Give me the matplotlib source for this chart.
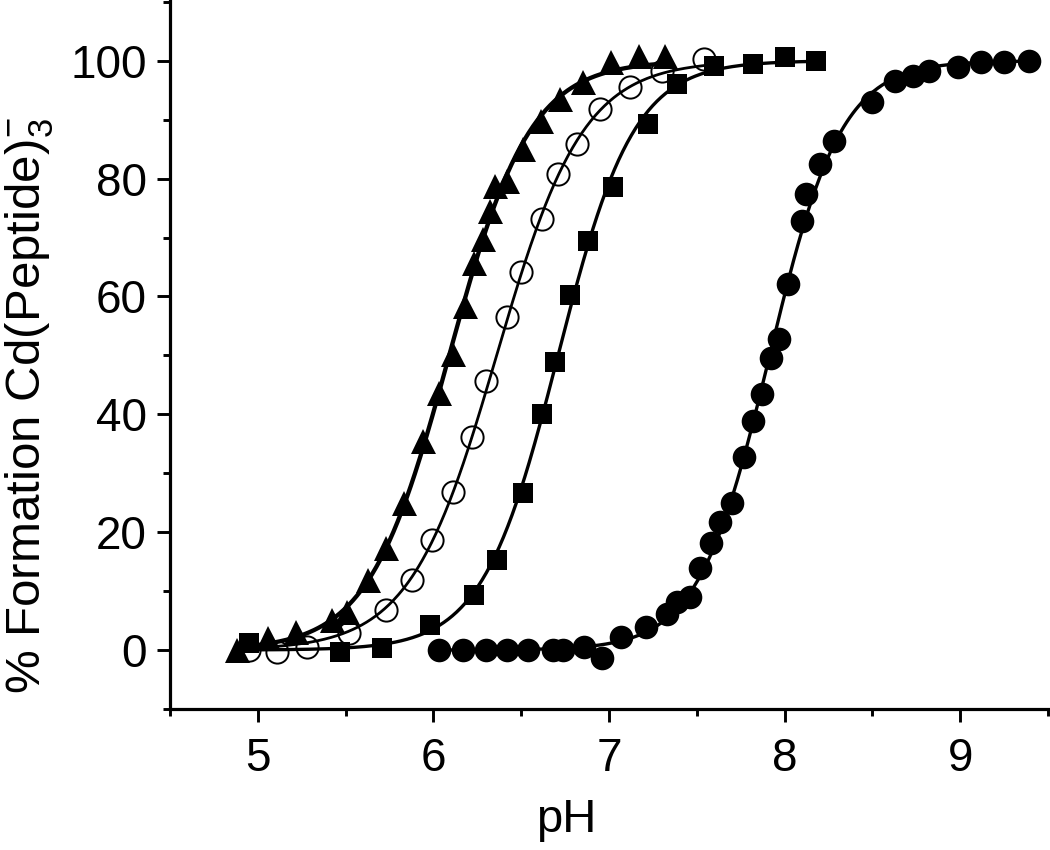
import numpy as np
import matplotlib
matplotlib.use("Agg")
import matplotlib.pyplot as plt
from matplotlib.ticker import MultipleLocator

plt.rcParams['font.family'] = ['Liberation Sans', 'DejaVu Sans']
plt.rcParams['mathtext.fontset'] = 'custom'
plt.rcParams['mathtext.rm'] = 'Liberation Sans'
plt.rcParams['mathtext.it'] = 'Liberation Sans'

# ---- data ----
tri_ph = [4.88, 5.06, 5.22, 5.42, 5.51, 5.63, 5.73, 5.83, 5.94, 6.03, 6.11, 6.18,
          6.23, 6.28, 6.32, 6.35, 6.42, 6.51, 6.61, 6.72, 6.85, 7.01, 7.17, 7.32]
tri_y = [0.0, 2.0, 3.1, 5.1, 6.5, 11.9, 17.3, 25.0, 35.4, 43.7, 50.2, 58.3,
         65.6, 69.7, 74.5, 78.7, 79.6, 85.0, 89.8, 93.5, 96.4, 99.8, 100.8, 100.8]

oc_ph = [4.95, 5.11, 5.28, 5.52, 5.73, 5.88, 5.99, 6.11, 6.22, 6.30, 6.42, 6.50,
         6.62, 6.71, 6.82, 6.95, 7.12, 7.30, 7.54]
oc_y = [0.0, -0.3, 0.5, 2.9, 6.8, 11.9, 18.7, 26.9, 36.2, 45.6, 56.5, 64.1,
        73.1, 80.8, 85.9, 91.8, 95.6, 98.3, 100.3]

sq_ph = [4.95, 5.47, 5.71, 5.98, 6.23, 6.36, 6.51, 6.62, 6.69, 6.78, 6.88, 7.02,
         7.22, 7.39, 7.60, 7.82, 8.00, 8.18]
sq_y = [1.2, -0.3, 0.3, 4.3, 9.4, 15.3, 26.7, 40.0, 48.8, 60.3, 69.4, 78.6,
        89.3, 96.1, 99.1, 99.5, 100.7, 100.0]

fc_ph = [6.03, 6.17, 6.30, 6.42, 6.54, 6.68, 6.74, 6.86, 6.96, 7.07, 7.21, 7.33,
         7.39, 7.46, 7.52, 7.58, 7.63, 7.70, 7.77, 7.82, 7.87, 7.92, 7.97, 8.02,
         8.10, 8.12, 8.20, 8.28, 8.50, 8.63, 8.73, 8.82, 8.99, 9.12, 9.25, 9.39]
fc_y = [0.0, 0.0, 0.0, 0.0, 0.0, 0.0, 0.0, 0.5, -1.4, 2.2, 3.9, 6.2,
        8.2, 9.0, 13.9, 18.2, 21.8, 25.0, 32.7, 38.8, 43.4, 49.5, 52.8, 62.1,
        72.8, 77.4, 82.5, 86.4, 93.0, 96.6, 97.4, 98.3, 99.0, 99.8, 99.8, 100.0]

x_ticks = [5, 6, 7, 8, 9]
y_ticks = [0, 20, 40, 60, 80, 100]


def hill_fit(ph, y):
    """Least-squares sigmoid fit (grid search) of the measured points."""
    ph = np.asarray(ph)
    y = np.asarray(y)
    pkas = np.arange(4.5, 9.5, 0.005)
    ns = np.arange(0.5, 4.0, 0.01)
    P, N = np.meshgrid(pkas, ns, indexing='ij')
    pred = 100.0 / (1.0 + 10 ** (N[..., None] * (P[..., None] - ph)))
    err = ((pred - y) ** 2).sum(axis=-1)
    i, j = np.unravel_index(np.argmin(err), err.shape)
    pka, n = pkas[i], ns[j]
    xs = np.linspace(ph.min(), ph.max(), 400)
    return xs, 100.0 / (1.0 + 10 ** (n * (pka - xs)))


fig = plt.figure(figsize=(10.5, 8.5), dpi=100)
ax = fig.add_axes([170 / 1050, 141 / 850, 878 / 1050, 709 / 850])

series = [
    (tri_ph, tri_y, dict(marker='^', ms=18, mfc='black', mec='black', mew=0), 3.1),
    (oc_ph, oc_y, dict(marker='o', ms=16, mfc='none', mec='black', mew=1.4), 2.0),
    (sq_ph, sq_y, dict(marker='s', ms=15, mfc='black', mec='black', mew=0), 2.4),
    (fc_ph, fc_y, dict(marker='o', ms=17, mfc='black', mec='black', mew=0), 2.4),
]
for ph, y, mk, lw in series:
    xs, ys = hill_fit(ph, y)
    ax.plot(xs, ys, color='black', lw=lw, zorder=2)
    ax.plot(ph, y, linestyle='none', zorder=3, **mk)

ax.set_xlim(4.5, 9.5)
ax.set_ylim(-10, 110.3)
ax.set_xticks(x_ticks)
ax.set_yticks(y_ticks)
ax.xaxis.set_minor_locator(MultipleLocator(0.5))
ax.yaxis.set_minor_locator(MultipleLocator(10))

for s in ['top', 'right']:
    ax.spines[s].set_visible(False)
for s in ['left', 'bottom']:
    ax.spines[s].set_linewidth(2.3)

ax.tick_params(which='major', direction='out', length=9.5, width=2.1,
               labelsize=33, pad=7)
ax.tick_params(which='minor', direction='out', length=5, width=2.1)
ax.tick_params(axis='x', which='major', pad=11)

ax.set_xlabel('pH', fontsize=34)
ax.xaxis.set_label_coords(0.451, -0.126)
ax.xaxis.label.set_va('top')
ax.set_ylabel(r'% Formation Cd(Peptide)$_3^{-}$', fontsize=35.5)
ax.yaxis.set_label_coords(-0.131, 0.428)

fig.savefig('out.png', dpi=100)
